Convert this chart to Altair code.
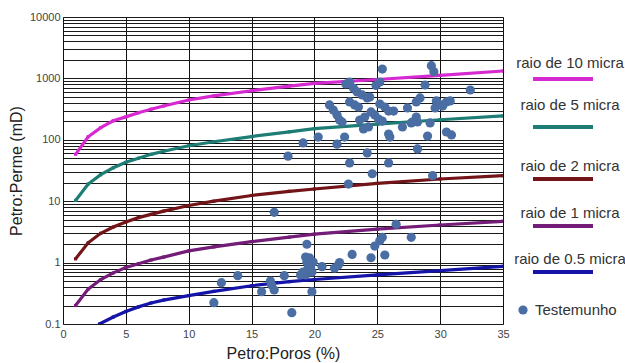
import altair as alt
import pandas as pd

# Porosidade (%) em que as curvas de raio de garganta de poro foram avaliadas
poros_curva = [1, 2, 3, 4, 5, 6, 7, 8, 10, 12, 15, 18, 20, 25, 30, 35]
raio_10 = [58, 112, 158, 204, 236, 275, 315, 355, 445, 520, 630, 750, 830, 960, 1120, 1320]
raio_5 = [10.3, 19, 27, 35, 43, 50, 58, 65, 80, 93, 113, 135, 152, 180, 212, 245]
raio_2 = [1.15, 2.1, 3.0, 3.8, 4.6, 5.4, 6.1, 6.9, 8.5, 10, 12.4, 14.5, 15.8, 19.5, 23, 26]
raio_1 = [0.2, 0.37, 0.53, 0.68, 0.83, 0.96, 1.1, 1.23, 1.55, 1.8, 2.2, 2.6, 2.9, 3.5, 4.1, 4.7]
poros_curva_05 = [2.9, 4, 5, 6, 7, 8, 10, 12, 15, 18, 20, 25, 30, 35]
raio_05 = [0.1, 0.13, 0.16, 0.19, 0.22, 0.245, 0.29, 0.34, 0.42, 0.49, 0.53, 0.63, 0.74, 0.87]

# Amostras de testemunho: porosidade (%) e permeabilidade (mD)
test_poros = [
    25.4, 29.3, 29.5, 28.8, 32.4, 22.5, 22.8, 23.1, 23.4, 23.8, 24.2, 24.9, 25.2,
    21.2, 21.5, 21.8, 22.0, 22.8, 23.2, 23.5, 23.6, 24.0, 24.5, 24.8, 25.1, 25.4,
    25.2, 25.6, 25.9, 26.3, 24.4, 27.4, 28.1, 28.4, 28.1, 27.8, 27.0, 29.2, 29.7,
    29.9, 30.2, 30.5, 30.8, 29.6, 30.5, 30.9, 23.9, 24.3, 25.9, 26.0, 29.0, 22.4,
    21.8, 20.3, 19.1, 17.9, 24.2, 22.8, 25.9, 28.2, 24.6, 29.4, 22.7, 22.2, 27.7,
    28.2,
    16.8, 12.0, 12.6, 13.9, 15.8, 16.5, 16.6, 16.8, 17.6, 18.2, 19.4, 19.3, 19.4,
    19.6, 19.6, 19.8, 19.1, 18.9, 19.3, 19.5, 19.7, 19.9, 19.6, 19.8, 26.5, 27.7,
    25.4, 25.2, 24.8, 25.6, 24.5, 23.0, 22.0, 21.9, 21.6, 20.6,
]
test_perme = [
    1420, 1610, 1285, 781, 647, 811, 873, 698, 601, 537, 480, 766, 873,
    369, 305, 254, 210, 413, 369, 342, 210, 235, 284, 254, 218, 202,
    383, 342, 294, 294, 498, 330, 413, 480, 235, 195, 162, 188, 429,
    383, 355, 413, 429, 330, 134, 120, 150, 162, 124, 111, 115, 111,
    85, 111, 89, 54, 61, 42, 42, 71, 28, 26, 19, 195, 188,
    195,
    6.6, 0.222, 0.471, 0.612, 0.336, 0.50, 0.43, 0.358, 0.612, 0.153, 1.99, 1.23, 1.02,
    0.91, 0.76, 0.70, 0.70, 0.63, 0.63, 0.82, 0.82, 1.02, 1.2, 0.336, 4.2, 2.58,
    2.58, 2.27, 1.86, 1.33, 1.20, 1.36, 1.0, 0.91, 0.81, 0.86,
]

rotulos = ["raio de 10 micra", "raio de 5 micra", "raio de 2 micra",
           "raio de 1 micra", "raio de 0.5 micra"]
rotulo_pontos = "Testemunho"

# Estilo
cores = ["#d629d2", "#1d7d74", "#731418", "#731c78", "#1414a8"]
cor_pontos = "#4a6ea3"
fonte = "Liberation Sans"

W, H = 440, 307

curvas = pd.concat([
    pd.DataFrame({"poros": poros_curva, "perme": raio_10, "raio": rotulos[0]}),
    pd.DataFrame({"poros": poros_curva, "perme": raio_5, "raio": rotulos[1]}),
    pd.DataFrame({"poros": poros_curva, "perme": raio_2, "raio": rotulos[2]}),
    pd.DataFrame({"poros": poros_curva, "perme": raio_1, "raio": rotulos[3]}),
    pd.DataFrame({"poros": poros_curva_05, "perme": raio_05, "raio": rotulos[4]}),
])
amostras = pd.DataFrame({"poros": test_poros, "perme": test_perme})

# Linhas de grade logarítmicas: 1..9 em cada década
grade_y = [round(m * 10 ** e, 6) for e in range(-1, 4) for m in range(1, 10)] + [10000]

eixo_x = alt.X(
    "poros:Q",
    scale=alt.Scale(domain=[0, 35], nice=False, zero=False),
    axis=alt.Axis(
        values=list(range(0, 36, 5)), title="Petro:Poros (%)", grid=True,
        gridColor="#111", gridWidth=1, ticks=False, domain=False,
        labelFlush=False, labelPadding=4, labelFontSize=11, labelColor="#444",
        titleFontSize=16, titleFontWeight="normal", titleColor="#222",
        titlePadding=6, labelFont=fonte, titleFont=fonte,
    ),
)
eixo_y = alt.Y(
    "perme:Q",
    scale=alt.Scale(type="log", domain=[0.1, 10000], nice=False),
    axis=alt.Axis(
        values=grade_y,
        labelExpr="abs(log(datum.value)/LN10 - round(log(datum.value)/LN10)) < 0.001 ? format(datum.value, '~g') : ''",
        labelOverlap=False, labelFlush=False,
        title="Petro:Perme (mD)", grid=True, gridColor="#1a1a1a", gridWidth=1.1,
        ticks=False, domain=False, labelPadding=3, labelFontSize=11,
        labelColor="#444", titleFontSize=16, titleFontWeight="normal",
        titleColor="#222", titlePadding=5, labelFont=fonte, titleFont=fonte,
    ),
)

linhas = alt.Chart(curvas).mark_line(
    strokeWidth=3.2, clip=True,
    point=alt.OverlayMarkDef(shape="square", size=10, filled=True),
).encode(
    x=eixo_x,
    y=eixo_y,
    color=alt.Color("raio:N", scale=alt.Scale(domain=rotulos, range=cores), legend=None),
    order="poros:Q",
)

pontos = alt.Chart(amostras).mark_circle(
    size=85, color=cor_pontos, opacity=1
).encode(x="poros:Q", y="perme:Q")

# Legenda desenhada à direita: rótulo acima da amostra de linha
leg_texto_y = [46, 88, 149, 196, 242]
leg_linha_y = [62, 110, 162, 209, 255]
leg_texto_x, leg_linha_x0, leg_linha_x1 = 507, 470, 530
unico = alt.Data(values=[{}])

camadas = [linhas, pontos]
for rot, cor, ty, ly in zip(rotulos, cores, leg_texto_y, leg_linha_y):
    camadas.append(
        alt.Chart(unico).mark_text(
            text=rot, font=fonte, fontSize=15, color="#333", align="center", baseline="middle"
        ).encode(x=alt.value(leg_texto_x), y=alt.value(ty))
    )
    camadas.append(
        alt.Chart(unico).mark_rule(color=cor, strokeWidth=4).encode(
            x=alt.value(leg_linha_x0), x2=alt.value(leg_linha_x1), y=alt.value(ly)
        )
    )
camadas.append(
    alt.Chart(unico).mark_circle(size=85, color=cor_pontos, opacity=1).encode(
        x=alt.value(460), y=alt.value(293)
    )
)
camadas.append(
    alt.Chart(unico).mark_text(
        text=rotulo_pontos, font=fonte, fontSize=15, color="#333", align="left", baseline="middle"
    ).encode(x=alt.value(472), y=alt.value(293))
)

chart = alt.layer(*camadas).properties(
    width=W, height=H,
    autosize=alt.AutoSizeParams(type="none"),
    padding={"left": 63, "top": 17, "right": 122, "bottom": 39},
    background="white",
).configure_view(stroke="#888", strokeWidth=1)

chart.save("out.html", embed_options={"renderer": "svg", "actions": False})
